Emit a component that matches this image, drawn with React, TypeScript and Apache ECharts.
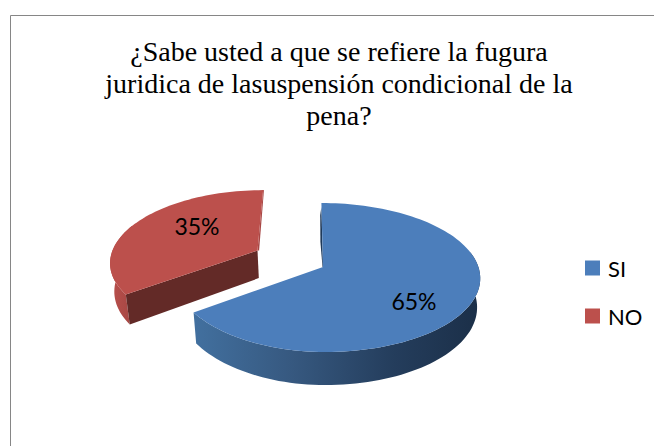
import React, { useEffect, useRef } from "react";
import * as echarts from "echarts";

const categories = ["SI", "NO"];
const values = [65, 35];
const titleLines = [
  "¿Sabe usted a que se refiere la fugura",
  "juridica de lasuspensión condicional de la",
  "pena?",
];

const total = values.reduce((a, b) => a + b, 0);
const CX = 323, CY = 267, RXR = 155.4, RY = 73, K = 0.141, DEPTH = 28.4, TAPER = 0.98, EXPLODE = [0, 0.48];
const RXL = [148, 149.5];
const OFFSET = [[0, 0], [-3, -1]];
const SHEAR = [0.025, 0.03];
const TOP = ["#4c7ebb", "#bc504c"];
const LABEL_AT = [[414, 301], [197, 226]];
const SANS = '"Lato", "Carlito", sans-serif';
const SERIF = '"Liberation Serif", "Times New Roman", serif';

function makeSlice(startDeg: number, endDeg: number, index: number) {
  const explode = EXPLODE[index];
  const mid = ((startDeg + endDeg) / 2) * Math.PI / 180;
  const ex = Math.sin(mid) * explode, ey = -Math.cos(mid) * explode;
  const proj = (x: number, y: number) => {
    const w = 1 - K * y;
    const R = x < 0 ? RXL[index] : RXR;
    let Y = CY + (RY * y) / w;
    if (index === 0 && x < 0) Y -= 2 * x * x;
    const X = CX + (R * x) / w + SHEAR[index] * (Y - CY);
    return { X: X + OFFSET[index][0], Y: Y + OFFSET[index][1], w };
  };
  const top = (deg: number, r = 1) => {
    const t = deg * Math.PI / 180;
    const p = proj(Math.sin(t) * r + ex, -Math.cos(t) * r + ey);
    return [p.X, p.Y];
  };
  const bot = (deg: number, r = 1) => {
    const t = deg * Math.PI / 180;
    const p = proj(Math.sin(t) * r + ex, -Math.cos(t) * r + ey);
    return [CX + (p.X - CX) * TAPER, p.Y + DEPTH / p.w];
  };
  const arc = (f: (d: number) => number[], a: number, b: number) => {
    const out: number[][] = [];
    const n = Math.max(2, Math.ceil(Math.abs(b - a) / 2));
    for (let i = 0; i <= n; i++) out.push(f(a + ((b - a) * i) / n));
    return out;
  };
  return { top, bot, arc };
}

const poly = (points: number[][], fill: any) => ({ type: "polygon", shape: { points }, style: { fill }, silent: true });

function renderSlice(index: number) {
  return (params: any, api: any) => {
    const before = values.slice(0, index).reduce((a, b) => a + b, 0);
    const v = api.value(0) as number;
    const start = (before / total) * 360;
    const end = ((before + v) / total) * 360;
    const { top, bot, arc } = makeSlice(start, end, index);
    const children: any[] = [];
    if (index === 0) {
      const wallA = 78;
      children.push(
        poly([...arc(top, wallA, end), ...arc(bot, end, wallA)],
          new echarts.graphic.LinearGradient(0, 0, 1, 0, [
            { offset: 0, color: "#42709f" },
            { offset: 0.35, color: "#36587f" },
            { offset: 0.7, color: "#243d5c" },
            { offset: 1, color: "#1b2f48" },
          ]))
      );
      const a = top(start), c = top(0, 0);
      children.push(poly([[a[0], a[1] + 4], c, [c[0] - 0.5, c[1]], [c[0] - 2.6, c[1] - 25], [a[0] - 1.2, a[1] + 12]], "#1f3a5a"));
    } else {
      const c0 = top(0, 0), c1 = bot(0, 0);
      children.push(
        poly([...arc(top, start, 292), ...arc(bot, 292, start)],
          new echarts.graphic.LinearGradient(0, 0, 1, 0, [
            { offset: 0, color: "#b9504c" },
            { offset: 1, color: "#a34542" },
          ]))
      );
      children.push(poly([c0, top(start), bot(start), c1], "#632a27"));
      const e = top(end);
      children.push(poly([e, [e[0] + 0.8, e[1]], [c0[0] + 1.6, c0[1]], c0], "#a84745"));
    }
    children.push(poly([top(0, 0), ...arc(top, start, end)], TOP[index]));
    children.push({
      type: "text",
      silent: true,
      style: {
        text: Math.round((v / total) * 100) + "%",
        x: LABEL_AT[index][0],
        y: LABEL_AT[index][1],
        textAlign: "center",
        textVerticalAlign: "middle",
        fontFamily: SANS,
        fontSize: 23,
        fill: "#000",
      },
    });
    return { type: "group", children };
  };
}

export default function App() {
  const ref = useRef<HTMLDivElement>(null);
  useEffect(() => {
    document.body.style.margin = "0";
    const chart = echarts.init(ref.current!, null, { renderer: "svg" });
    chart.setOption({
      animation: false,
      backgroundColor: "#fff",
      title: {
        text: titleLines.join("\n"),
        left: 334,
        top: 30,
        textAlign: "center",
        textStyle: { fontFamily: SERIF, fontSize: 28, fontWeight: "normal", color: "#000", lineHeight: 32 },
      },
      legend: {
        orient: "vertical",
        left: 580,
        top: 252,
        itemWidth: 15,
        itemHeight: 15,
        itemGap: 26,
        icon: "rect",
        selectedMode: false,
        data: categories,
        textStyle: { fontFamily: SANS, fontSize: 22, color: "#000", padding: [0, 0, 0, 3] },
      },
      graphic: [
        { type: "rect", silent: true, z: -1, shape: { x: 10.5, y: 15.5, width: 800, height: 600 }, style: { fill: "none", stroke: "#868686", lineWidth: 1 } },
      ],
      series: [1, 0].map((i) => ({
        type: "custom",
        name: categories[i],
        coordinateSystem: "none",
        renderItem: renderSlice(i),
        itemStyle: { color: TOP[i] },
        data: [[values[i]]],
      })),
    });
    return () => chart.dispose();
  }, []);
  return <div ref={ref} style={{ width: 654, height: 446 }} />;
}
